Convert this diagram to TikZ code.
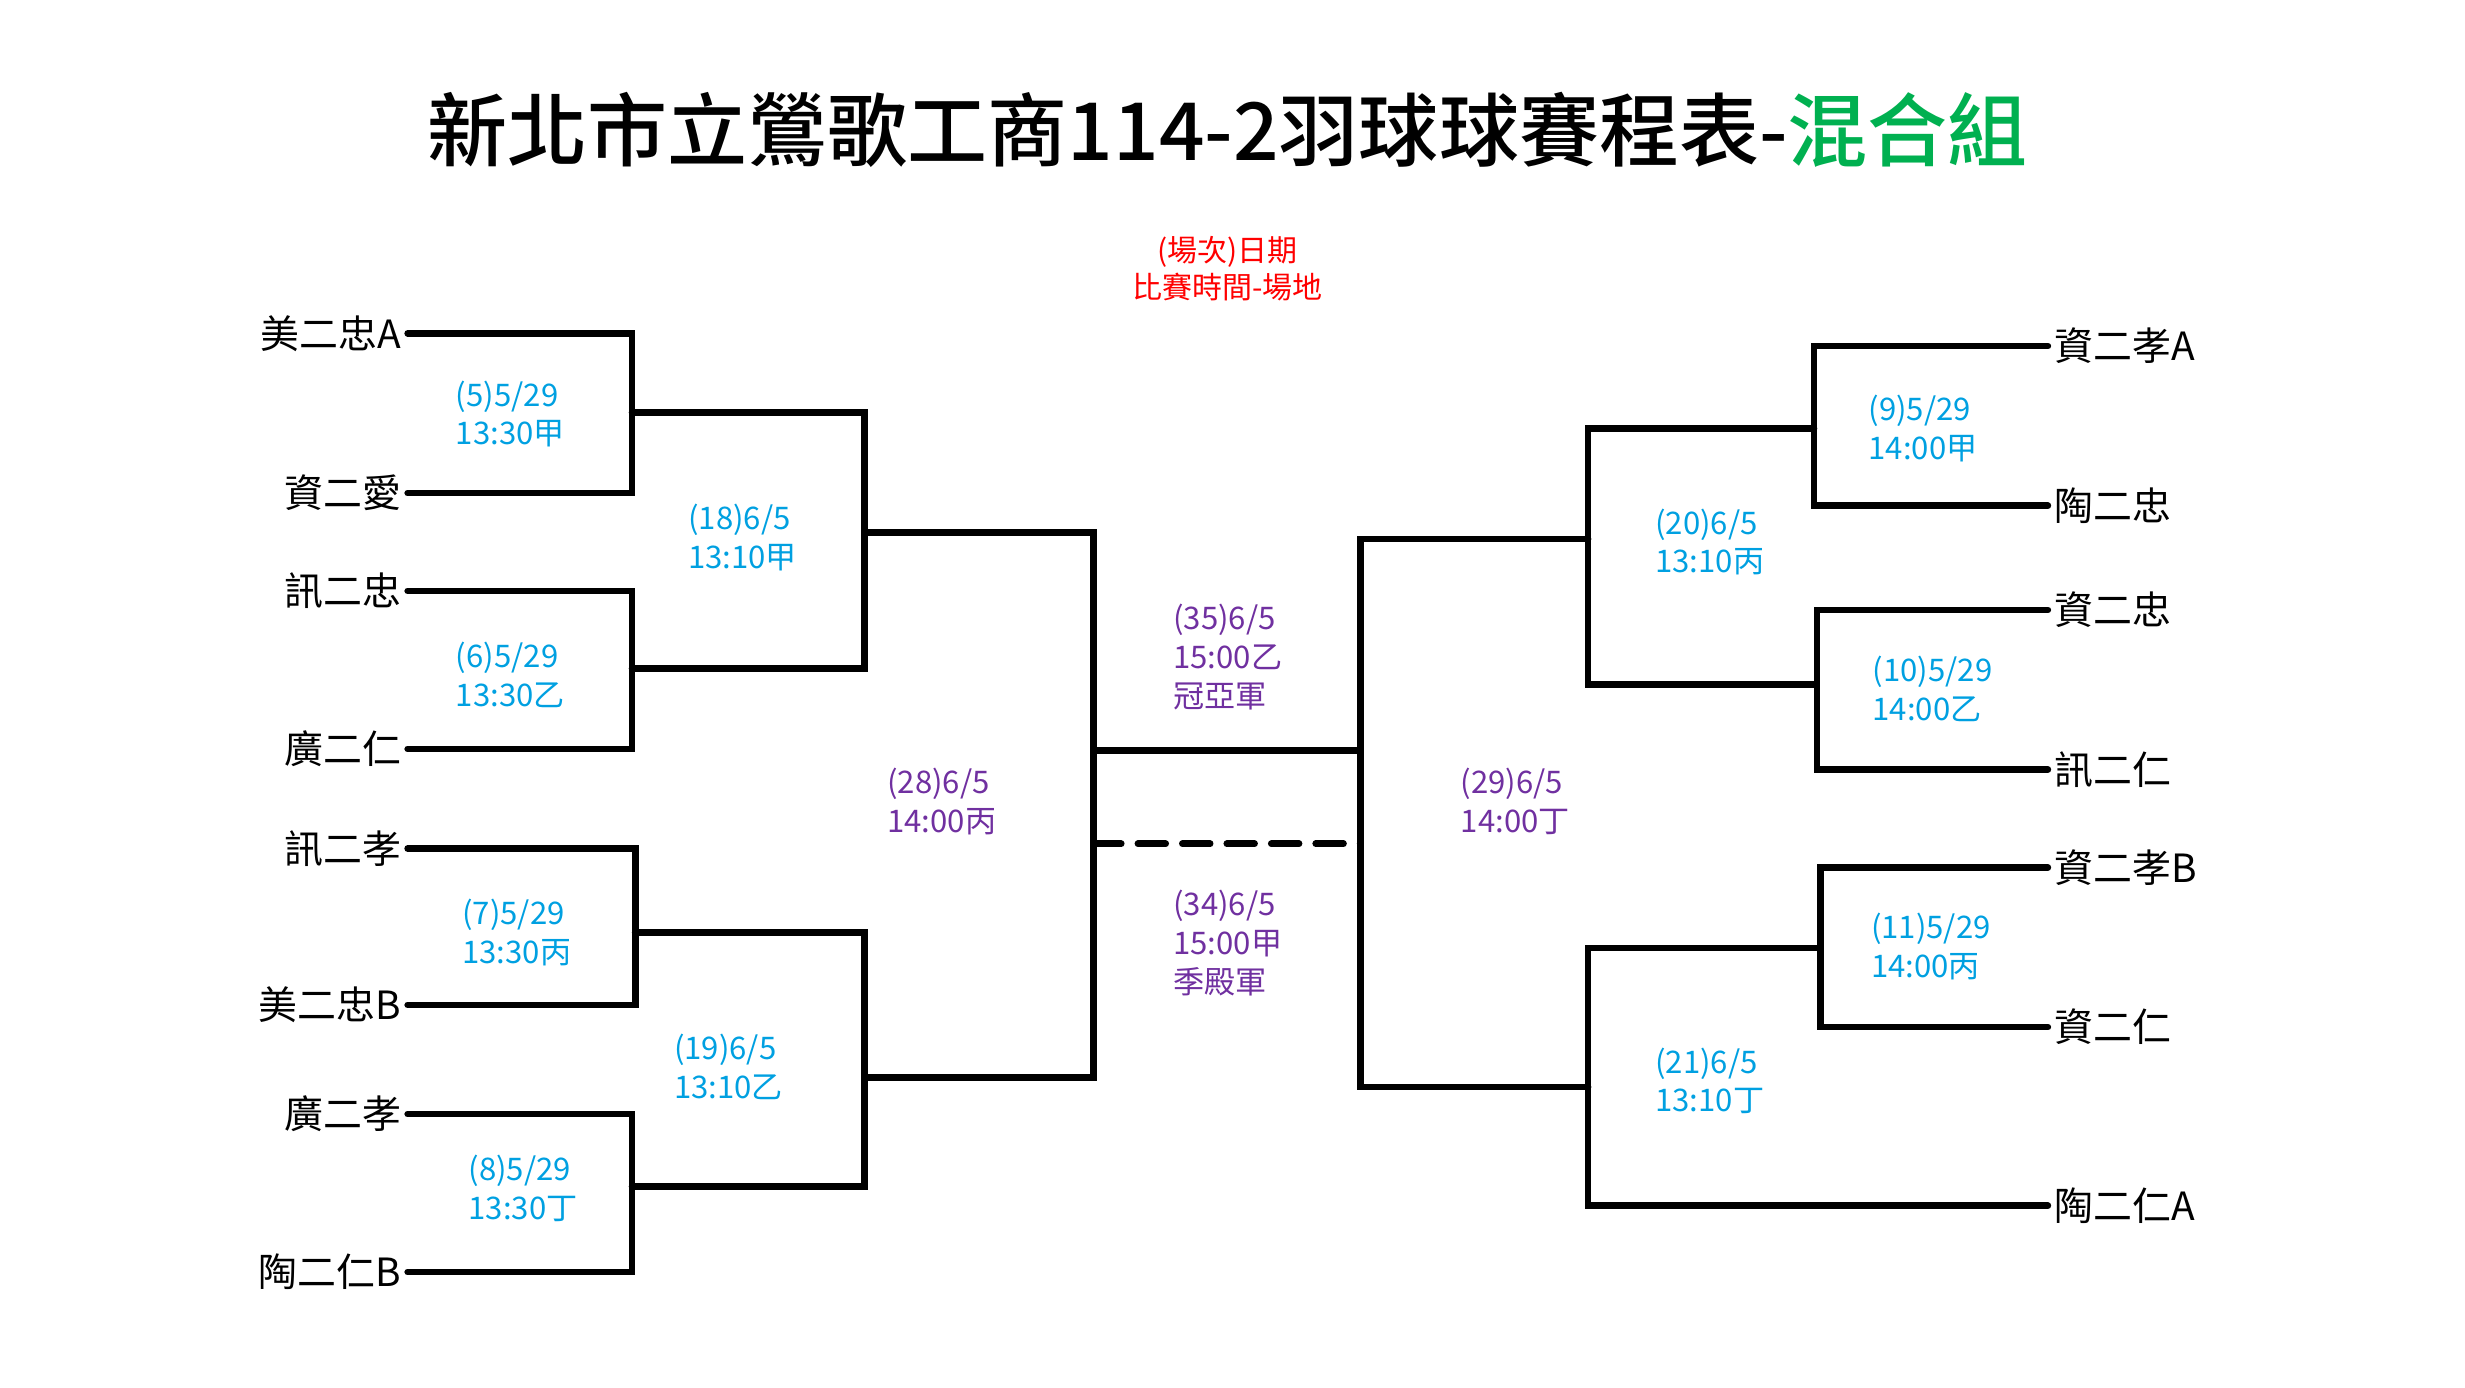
\documentclass[tikz,border=0pt]{standalone}
\usepackage{fontspec}
\setmainfont{Noto Sans CJK TC}
\newfontfamily\titlefont{Noto Sans CJK TC Medium}
\usetikzlibrary{positioning}
\definecolor{matchblue}{RGB}{0,160,225}
\definecolor{finalpurple}{RGB}{112,48,160}
\definecolor{titlegreen}{RGB}{0,176,80}
\begin{document}
\begin{tikzpicture}[x=0.01cm,y=-0.01cm]
    \tikzset{
        wire/.style={line width=1.2pt,line cap=round},
        team/.style={inner sep=1pt,font=\fontsize{7}{8}\selectfont},
        match/.style={align=left,text=matchblue,inner sep=0pt,font=\fontsize{5.6}{7}\selectfont},
        final/.style={align=left,text=finalpurple,inner sep=0pt,font=\fontsize{5.6}{7}\selectfont}
    }
    \useasboundingbox (0,0) rectangle (1560,878);
    % title
    \node[font=\fontsize{14.4}{16}\titlefont] (title) at (777,82)
        {新北市立鶯歌工商114-2羽球球賽程表-\textcolor{titlegreen}{混合組}};
    \node[align=center,text=red,font=\fontsize{5.4}{6.8}\selectfont] (legend) at (777,170)
        {(場次)日期\\比賽時間-場地};
    % left teams
    \foreach \name/\txt/\y in {la/美二忠A/211,lb/資二愛/312,lc/訊二忠/374,ld/廣二仁/474,
                               le/訊二孝/537,lf/美二忠B/636,lg/廣二孝/705,lh/陶二仁B/805}
        \node[team,anchor=east] (\name) at (258,\y) {\txt};
    % right teams
    \foreach \name/\txt/\y in {ra/資二孝A/219,rb/陶二忠/320,rc/資二忠/386,rd/訊二仁/487,
                               re/資二孝B/549,rf/資二仁/650,rg/陶二仁A/763}
        \node[team,anchor=west] (\name) at (1296,\y) {\txt};
    % left brackets
    \draw[wire] (la.east) -- (400,211) -- (400,312) -- (lb.east);
    \draw[wire] (lc.east) -- (400,374) -- (400,474) -- (ld.east);
    \draw[wire] (le.east) -- (402,537) -- (402,636) -- (lf.east);
    \draw[wire] (lg.east) -- (400,705) -- (400,805) -- (lh.east);
    \draw[wire] (400,261) -- (547,261) -- (547,423) -- (400,423);
    \draw[wire] (402,590) -- (547,590) -- (547,751) -- (400,751);
    \draw[wire] (547,337) -- (692,337) -- (692,682) -- (547,682);
    % center
    \coordinate (cl) at (692,475);
    \coordinate (cr) at (861,475);
    \draw[wire] (cl) -- (cr);
    \draw[wire,dash pattern=on 5pt off 3pt] (692,534) -- (861,534);
    % right brackets
    \draw[wire] (1005,341) -- (861,341) -- (861,688) -- (1005,688);
    \draw[wire] (1148,271) -- (1005,271) -- (1005,433) -- (1148,433);
    \draw[wire] (ra.west) -- (1148,219) -- (1148,320) -- (rb.west);
    \draw[wire] (rc.west) -- (1150,386) -- (1150,487) -- (rd.west);
    \draw[wire] (re.west) -- (1152,549) -- (1152,650) -- (rf.west);
    \draw[wire] (1150,600) -- (1005,600) -- (1005,763) -- (rg.west);
    % match labels
    \node[match] (m5)  at (323,262) {(5)5/29\\13:30甲};
    \node[match] (m6)  at (323,427) {(6)5/29\\13:30乙};
    \node[match] (m7)  at (327,590) {(7)5/29\\13:30丙};
    \node[match] (m8)  at (331,752) {(8)5/29\\13:30丁};
    \node[match] (m18) at (470,340) {(18)6/5\\13:10甲};
    \node[match] (m19) at (461,675) {(19)6/5\\13:10乙};
    \node[match] (m9)  at (1217,271) {(9)5/29\\14:00甲};
    \node[match] (m10) at (1223,436) {(10)5/29\\14:00乙};
    \node[match] (m11) at (1222,599) {(11)5/29\\14:00丙};
    \node[match] (m20) at (1082,343) {(20)6/5\\13:10丙};
    \node[match] (m21) at (1082,684) {(21)6/5\\13:10丁};
    \node[final] (m28) at (596,507) {(28)6/5\\14:00丙};
    \node[final] (m29) at (959,507) {(29)6/5\\14:00丁};
    \node[final] (m35) at (777,416) {(35)6/5\\15:00乙\\冠亞軍};
    \node[final] (m34) at (777,597) {(34)6/5\\15:00甲\\季殿軍};
\end{tikzpicture}
\end{document}
